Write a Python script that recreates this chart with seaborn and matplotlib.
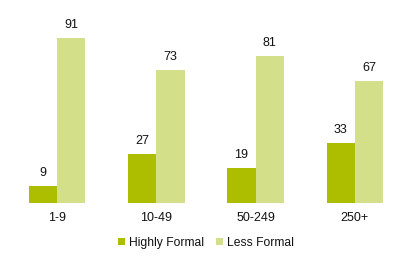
import matplotlib
matplotlib.use("Agg")
import matplotlib.pyplot as plt
import seaborn as sns
import pandas as pd

categories = ["1-9", "10-49", "50-249", "250+"]
highly_formal = [9, 27, 19, 33]
less_formal = [91, 73, 81, 67]
series = ["Highly Formal", "Less Formal"]
colors = ["#adbd00", "#d4e089"]

df = pd.DataFrame({
    "cat": categories * 2,
    "val": highly_formal + less_formal,
    "series": [series[0]] * 4 + [series[1]] * 4,
})

sns.set_style("white")
plt.rcParams['font.family'] = ['Liberation Sans', 'DejaVu Sans']

fig = plt.figure(figsize=(4.19, 2.70), dpi=100)
ax = fig.add_axes([0.0175, 0.25, 0.948, 0.670])
sns.barplot(data=df, x="cat", y="val", hue="series", palette=colors,
            width=0.57, saturation=1, ax=ax, legend=True, linewidth=0)
ax.set_xlim(-0.5, 3.5)
ax.set_ylim(0, 100)
for c in ax.containers:
    ax.bar_label(c, padding=5, fontsize=9, color="#111111")
for s in ax.spines.values():
    s.set_visible(False)
ax.set_yticks([])
ax.set_xlabel("")
ax.set_ylabel("")
ax.tick_params(axis="x", length=0, pad=7, labelsize=9, labelcolor="#111111")
leg = ax.legend(loc="center", bbox_to_anchor=(0.5, -0.224), ncol=2, frameon=False,
                fontsize=8.7, handlelength=0.55, handleheight=0.55, handletextpad=0.35,
                columnspacing=1.0)
for t in leg.get_texts():
    t.set_color("#111111")
fig.savefig("out.png", dpi=100)
